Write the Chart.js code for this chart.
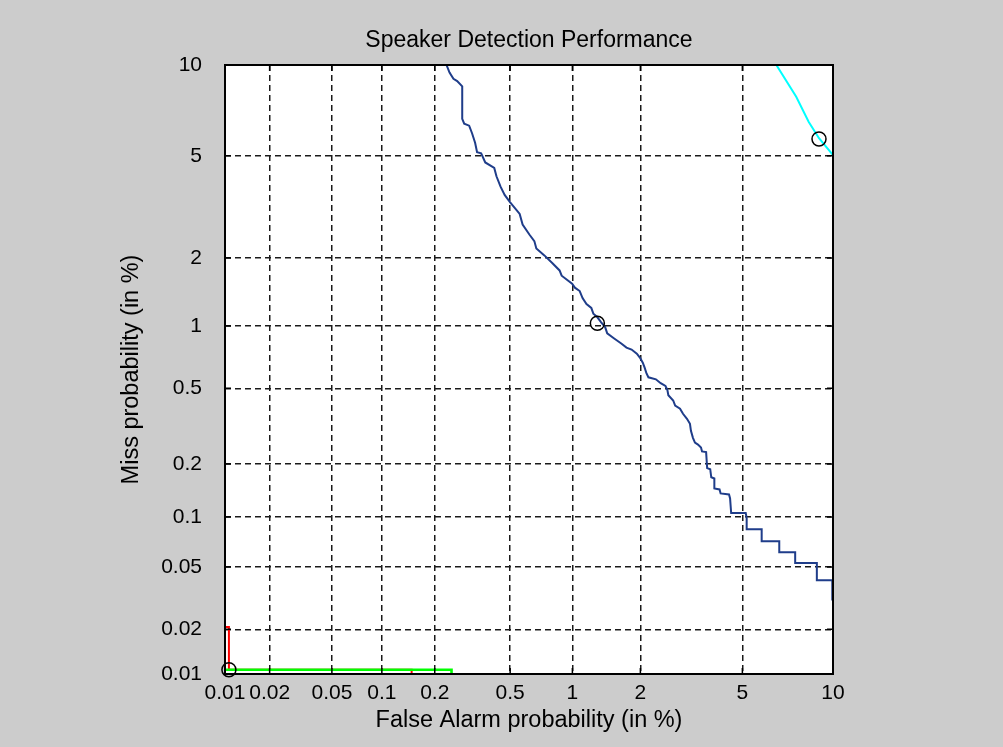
<!DOCTYPE html>
<html>
<head>
<meta charset="utf-8">
<title>Speaker Detection Performance</title>
<script src="https://cdn.jsdelivr.net/npm/chart.js@4.4.1/dist/chart.umd.min.js"></script>
<style>
  html, body { margin: 0; padding: 0; background: #cccccc; }
  canvas { display: block; }
</style>
</head>
<body>
<canvas id="detChart" width="1003" height="747"></canvas>
<script>
// probabilities in %
const tickVals = [0.01, 0.02, 0.05, 0.1, 0.2, 0.5, 1, 2, 5, 10];
const tickLabels = ['0.01', '0.02', '0.05', '0.1', '0.2', '0.5', '1', '2', '5', '10'];

const navyFa = [0.229, 0.232, 0.241, 0.253, 0.265, 0.282, 0.282, 0.289, 0.307, 0.318, 0.330, 0.338, 0.355, 0.373, 0.415,
    0.426, 0.447, 0.469, 0.499, 0.558, 0.577, 0.623, 0.659, 0.674, 0.737, 0.806, 0.871, 0.891, 0.997, 1.027,
    1.081, 1.114, 1.161, 1.221, 1.247, 1.298, 1.352, 1.408, 1.438, 1.543, 1.657, 1.745, 1.835, 1.932, 1.99,
    2.047, 2.084, 2.122, 2.161, 2.321, 2.428, 2.540, 2.586, 2.609, 2.729, 2.779, 2.906, 2.986, 3.095, 3.180,
    3.208, 3.266, 3.326, 3.416, 3.509, 3.541, 3.671, 3.704, 3.805, 3.840, 3.944, 3.944, 4.125, 4.163, 4.472,
    4.512, 4.553, 5.14, 5.18, 5.18, 5.85, 5.85, 6.72, 6.72, 7.59, 7.59, 8.91, 8.91, 9.95, 9.95];
const navyMiss = [10.2, 10, 9.48, 9.06, 8.92, 8.58, 6.72, 6.47, 6.37, 6.00, 5.56, 5.15, 5.1, 4.73, 4.52,
    4.21, 3.85, 3.58, 3.36, 3.02, 2.74, 2.50, 2.35, 2.19, 2.05, 1.90, 1.77, 1.68, 1.55, 1.49,
    1.44, 1.34, 1.26, 1.21, 1.14, 1.10, 1.04, 0.989, 0.925, 0.875, 0.828, 0.792, 0.775, 0.741, 0.709,
    0.670, 0.634, 0.593, 0.568, 0.555, 0.531, 0.514, 0.490, 0.4615, 0.434, 0.409, 0.394, 0.371, 0.349, 0.329,
    0.302, 0.277, 0.261, 0.255, 0.246, 0.234, 0.232, 0.1896, 0.187, 0.1686, 0.166, 0.1459, 0.144, 0.1367, 0.1349,
    0.128, 0.1053, 0.1053, 0.0985, 0.0846, 0.0846, 0.0717, 0.0717, 0.0615, 0.0615, 0.0528, 0.0528, 0.0413, 0.0413, 0.0308];

const cyanFa = [6.57, 7.65, 8.39, 9.05, 10.0];
const cyanMiss = [10, 7.95, 6.57, 5.77, 5.03];

const redFa = [0.0095, 0.01064, 0.01064, 0.1485, 0.1485];
const redMiss = [0.0207, 0.0207, 0.0107, 0.0107, 0.0095];

const greenFa = [0.0095, 0.247, 0.247];
const greenMiss = [0.0107, 0.0107, 0.0095];

// operating points (circles)
const markFa = [0.01064, 1.30, 9.05];
const markMiss = [0.0107, 1.03, 5.73];

const FONT = '"Liberation Sans", Arial, sans-serif';

// inverse normal CDF (Acklam)
function probit(p) {
    const a = [-3.969683028665376e+01, 2.209460984245205e+02, -2.759285104469687e+02, 1.383577518672690e+02, -3.066479806614716e+01, 2.506628277459239e+00];
    const b = [-5.447609879822406e+01, 1.615858368580409e+02, -1.556989798598866e+02, 6.680131188771972e+01, -1.328068155288572e+01];
    const c = [-7.784894002430293e-03, -3.223964580411365e-01, -2.400758277161838e+00, -2.549671625654536e+00, 4.374664141464968e+00, 2.938163982698783e+00];
    const d = [7.784695709041462e-03, 3.224671290700398e-01, 2.445134137142996e+00, 3.754408661907416e+00];
    const pLow = 0.02425;
    if (p < pLow) {
        const q = Math.sqrt(-2 * Math.log(p));
        return (((((c[0] * q + c[1]) * q + c[2]) * q + c[3]) * q + c[4]) * q + c[5]) /
            ((((d[0] * q + d[1]) * q + d[2]) * q + d[3]) * q + 1);
    }
    if (p <= 1 - pLow) {
        const q = p - 0.5, r = q * q;
        return (((((a[0] * r + a[1]) * r + a[2]) * r + a[3]) * r + a[4]) * r + a[5]) * q /
            (((((b[0] * r + b[1]) * r + b[2]) * r + b[3]) * r + b[4]) * r + 1);
    }
    const q = Math.sqrt(-2 * Math.log(1 - p));
    return -(((((c[0] * q + c[1]) * q + c[2]) * q + c[3]) * q + c[4]) * q + c[5]) /
        ((((d[0] * q + d[1]) * q + d[2]) * q + d[3]) * q + 1);
}

function toPoints(fa, miss) {
    return fa.map((v, i) => ({ x: probit(v / 100), y: probit(miss[i] / 100) }));
}

function lineSet(fa, miss, color, width, order) {
    return {
        data: toPoints(fa, miss),
        showLine: true,
        borderColor: color,
        borderWidth: width,
        pointRadius: 0,
        tension: 0,
        order: order
    };
}

const axisMin = probit(tickVals[0] / 100);
const axisMax = probit(tickVals[tickVals.length - 1] / 100);

function probitAxis(titleText, isX) {
    return {
        type: 'linear',
        min: axisMin,
        max: axisMax,
        afterBuildTicks: (scale) => {
            scale.ticks = tickVals.map(v => ({ value: probit(v / 100) }));
        },
        afterFit: (scale) => {
            if (isX) scale.height = 73;
            else scale.width = 225;
        },
        ticks: {
            autoSkip: false,
            maxRotation: 0,
            padding: isX ? 7 : 23,
            color: '#000',
            font: { family: FONT, size: 21 },
            callback: (val, i) => tickLabels[i]
        },
        grid: { color: '#1a1a1a', lineWidth: 1.5, drawTicks: false },
        border: { display: false, dash: [6, 4] },
        title: {
            display: true,
            text: titleText,
            color: '#000',
            font: { family: FONT, size: 23.5 },
            padding: isX ? { top: 0, bottom: 12 } : { top: 117, bottom: 0 }
        }
    };
}

// grey figure, white axes, frame with inward ticks and the title
const frame = {
    id: 'frame',
    beforeDraw(chart) {
        const { ctx, chartArea: a } = chart;
        ctx.save();
        ctx.fillStyle = '#cccccc';
        ctx.fillRect(0, 0, chart.width, chart.height);
        ctx.fillStyle = '#ffffff';
        ctx.fillRect(a.left, a.top, a.right - a.left, a.bottom - a.top);
        ctx.restore();
    },
    afterDraw(chart) {
        const { ctx, chartArea: a, scales } = chart;
        ctx.save();
        ctx.strokeStyle = '#000';
        ctx.lineWidth = 1.5;
        ctx.beginPath();
        scales.x.ticks.forEach(t => {
            const px = scales.x.getPixelForValue(t.value);
            ctx.moveTo(px, a.bottom); ctx.lineTo(px, a.bottom - 6);
            ctx.moveTo(px, a.top); ctx.lineTo(px, a.top + 6);
        });
        scales.y.ticks.forEach(t => {
            const py = scales.y.getPixelForValue(t.value);
            ctx.moveTo(a.left, py); ctx.lineTo(a.left + 6, py);
            ctx.moveTo(a.right, py); ctx.lineTo(a.right - 6, py);
        });
        ctx.stroke();
        ctx.lineWidth = 2;
        ctx.strokeRect(a.left, a.top, a.right - a.left, a.bottom - a.top);

        ctx.fillStyle = '#000';
        ctx.font = '23px ' + FONT;
        ctx.textAlign = 'center';
        ctx.textBaseline = 'middle';
        ctx.fillText('Speaker Detection Performance', (a.left + a.right) / 2, 41);
        ctx.restore();
    }
};

const ctx = document.getElementById('detChart').getContext('2d');

new Chart(ctx, {
    type: 'scatter',
    data: {
        datasets: [
            {
                data: toPoints(markFa, markMiss),
                pointStyle: 'circle',
                pointRadius: 7,
                pointBorderWidth: 1.5,
                borderColor: '#000',
                backgroundColor: 'rgba(0,0,0,0)',
                clip: false,
                order: 0
            },
            lineSet(greenFa, greenMiss, '#00ff00', 2.6, 1),
            lineSet(redFa, redMiss, '#ff0000', 2, 2),
            lineSet(navyFa, navyMiss, '#1f3d8a', 2, 3),
            lineSet(cyanFa, cyanMiss, '#00ffff', 2, 3)
        ]
    },
    options: {
        responsive: false,
        animation: false,
        devicePixelRatio: 1,
        layout: { padding: { top: 65, right: 170, left: 0, bottom: 0 } },
        plugins: {
            legend: { display: false },
            tooltip: { enabled: false },
            title: { display: false }
        },
        scales: {
            x: probitAxis('False Alarm probability (in %)', true),
            y: probitAxis('Miss probability (in %)', false)
        }
    },
    plugins: [frame]
});
</script>
</body>
</html>
